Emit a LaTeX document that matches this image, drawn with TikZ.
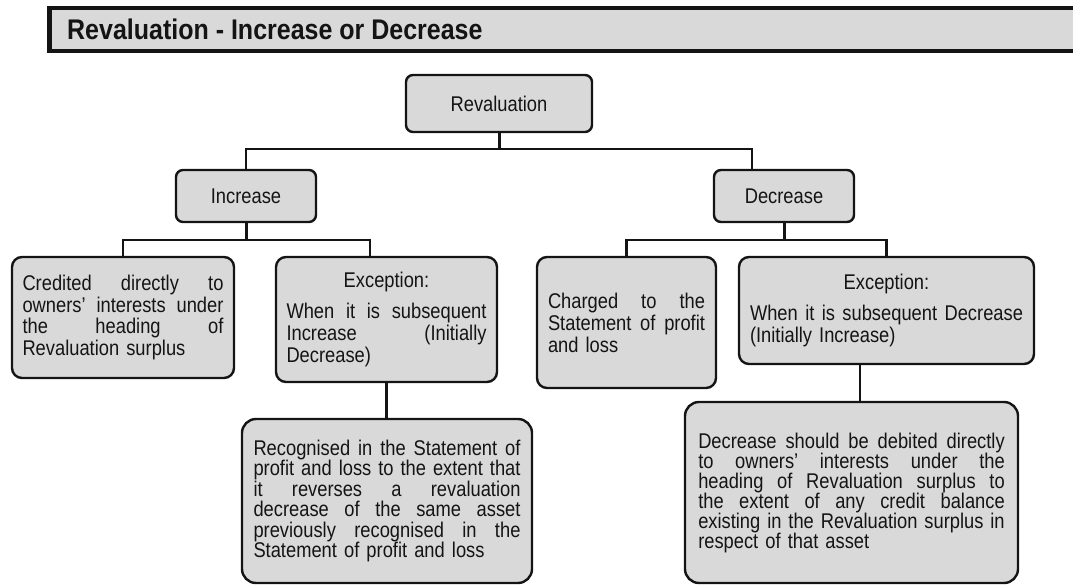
\documentclass[tikz,border=0pt]{standalone}
\usepackage{fontspec}
\setmainfont{Liberation Sans}[FakeStretch=0.86]
\newfontfamily\titlefont{Liberation Sans}[FakeStretch=0.88]
\usetikzlibrary{calc}
\definecolor{boxgray}{HTML}{D9D9D9}
\definecolor{ink}{HTML}{141414}
\newcommand{\jl}[1]{\makebox[\linewidth][s]{\spaceskip=\fontdimen2\font plus 1fil\relax #1}}
\tikzset{
  box/.style={draw=ink, line width=2.4pt, fill=boxgray, rounded corners=10pt,
    inner sep=0pt, text=ink, align=left, font=\fontsize{21.3}{21.7}\selectfont},
  smallbox/.style={box, align=center, rounded corners=7pt},
  bigbox/.style={box, rounded corners=14pt},
  conn/.style={draw=ink, line width=2.2pt},
  drop/.style={draw=ink, line width=3pt},
}
\begin{document}
\begin{tikzpicture}[x=1pt, y=-1pt]
\useasboundingbox (0,0) rectangle (1073,585);
% title bar
\fill[boxgray] (47,6) rectangle (1073,53);
\fill[ink] (47,6) rectangle (1073,10);
\fill[ink] (47,49) rectangle (1073,53);
\fill[ink] (47,6) rectangle (52,53);
\node[anchor=base west, inner sep=0pt, text=ink,
  font=\titlefont\bfseries\fontsize{28.4}{30}\selectfont] (title) at (67,40)
  {Revaluation - Increase or Decrease};

% level 1
\node[smallbox, minimum width=186pt, minimum height=57pt] (rev) at (499,103.5) {Revaluation};
% level 2
\node[smallbox, minimum width=140pt, minimum height=52pt] (inc) at (246,196) {Increase};
\node[smallbox, minimum width=140pt, minimum height=52pt] (dec) at (784,196) {Decrease};
% level 3
\node[box, minimum width=222pt, minimum height=121pt, text width=201pt] (cred) at (123,317.5)
  {\jl{Credited directly to}\\ \jl{owners' interests under}\\ \jl{the heading of}\\ Revaluation surplus};
\node[box, minimum width=221pt, minimum height=125pt, text width=200pt,
  font=\fontsize{21.3}{22}\selectfont] (excL) at (386.5,319.5)
  {\makebox[\linewidth]{Exception:}\\[9.7pt] \jl{When it is subsequent}\\ \jl{Increase (Initially}\\ Decrease)};
\node[box, minimum width=179pt, minimum height=131pt, text width=157pt,
  font=\fontsize{21.3}{22}\selectfont] (chg) at (626.5,322.5)
  {\jl{Charged to the}\\ \jl{Statement of profit}\\ and loss};
\node[box, minimum width=295pt, minimum height=107pt, text width=273pt,
  font=\fontsize{21.3}{22.5}\selectfont] (excR) at (886.5,310.5)
  {\makebox[\linewidth]{Exception:}\\[8pt] \jl{When it is subsequent Decrease}\\ (Initially Increase)};
% level 4
\node[bigbox, minimum width=290pt, minimum height=164pt, text width=267pt,
  font=\fontsize{21.3}{20.4}\selectfont] (botL) at (387,501)
  {\jl{Recognised in the Statement of}\\ \jl{profit and loss to the extent that}\\
   \jl{it reverses a revaluation}\\ \jl{decrease of the same asset}\\
   \jl{previously recognised in the}\\ Statement of profit and loss};
\node[bigbox, minimum width=333pt, minimum height=181pt, text width=306.5pt,
  font=\fontsize{21.3}{20}\selectfont] (botR) at (851.5,492.5)
  {\jl{Decrease should be debited directly}\\ \jl{to owners' interests under the}\\
   \jl{heading of Revaluation surplus to}\\ \jl{the extent of any credit balance}\\
   \jl{existing in the Revaluation surplus in}\\ respect of that asset};

% connectors
\coordinate (rb) at (499,149);
\coordinate (ib) at (246,240);
\coordinate (db) at (784,240);
\draw[drop] (rev.south) -- (rb);
\draw[conn] (inc.north) |- (rb) -| ([xshift=-32pt]dec.north);
\draw[drop] (inc.south) -- (ib);
\draw[conn] (cred.north) |- (ib) -| ([xshift=-16.5pt]excL.north);
\draw[drop] (dec.south) -- (db);
\draw[conn] (chg.north) |- (db) -| (excR.north);
\draw[conn] (excL.south) -- (excL.south |- botL.north);
\draw[conn] ([xshift=-26.5pt]excR.south) -- ([xshift=-26.5pt]excR.south |- botR.north);
\end{tikzpicture}
\end{document}
